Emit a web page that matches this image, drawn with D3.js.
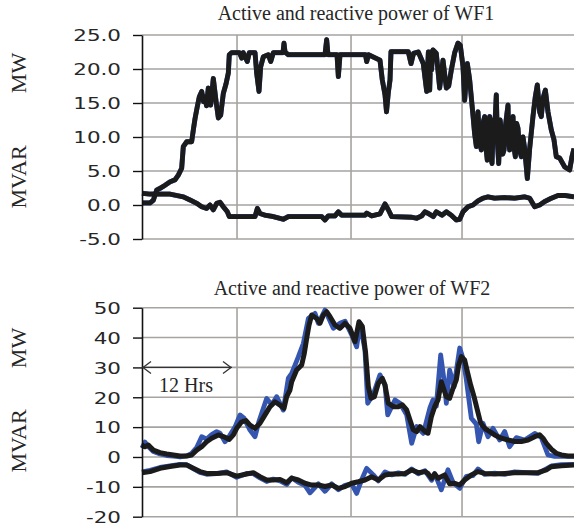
<!DOCTYPE html>
<html><head><meta charset="utf-8">
<script src="https://cdn.jsdelivr.net/npm/d3@7"></script>
<style>html,body{margin:0;padding:0;background:#fff;} svg{display:block}</style>
</head><body>
<svg id="c" width="574" height="529"></svg>
<script>
// ---------- DATA (time in hours, values in MW / MVAR) ----------
const titles = ["Active and reactive power of WF1", "Active and reactive power of WF2"];
const ticksWF1 = [-5, 0, 5, 10, 15, 20, 25];
const ticksWF2 = [-20, -10, 0, 10, 20, 30, 40, 50];
const hourGrid = [12.67, 27.87, 42.67];
const hourSpan = [0, 57.6];
const spanLabel = "12 Hrs";
const spanHours = 12;
const spanLevel = 30;

const wf1Active = [[0,0.3],[1.07,0.3],[1.51,0.7],[1.96,2.2],[2.4,2.45],[3.07,2.9],[3.73,3.4],[4.4,3.7],[4.84,4.4],[5.29,5.4],[5.51,8.6],[5.96,9.3],[6.62,9.3],[6.84,11.0],[7.07,12.7],[7.38,14.5],[7.64,15.9],[7.96,16.7],[8.2,15.2],[8.4,15.9],[8.6,14.6],[8.84,17.2],[9.16,14.7],[9.51,18.6],[9.87,15.3],[10.18,12.8],[10.49,13.2],[10.84,16.4],[11.2,17.8],[11.51,19.4],[11.64,22.1],[11.96,22.4],[13.0,22.4],[13.29,21.6],[13.5,22.4],[14.04,21.1],[14.3,22.4],[15.07,22.4],[15.29,19.4],[15.6,16.7],[15.82,20.3],[16.18,21.8],[16.84,22.1],[17.16,21.1],[17.51,22.4],[18.8,22.4],[18.93,23.8],[19.07,22.5],[19.5,22.1],[24.4,22.1],[24.62,24.3],[24.8,22.1],[26.0,22.1],[26.18,18.9],[26.4,22.1],[29.8,22.1],[29.96,21.1],[30.2,22.1],[31.73,21.3],[32.04,18.4],[32.4,16.2],[32.6,13.7],[32.84,16.5],[33.07,18.4],[33.2,22.55],[35.5,22.55],[35.87,20.8],[36.2,22.3],[36.84,22.5],[37.5,20.8],[37.96,16.7],[38.18,22.5],[38.36,16.9],[38.5,22.5],[38.6,19.85],[38.8,22.8],[39.24,22.3],[39.69,17.2],[40.13,21.3],[40.58,17.2],[40.89,17.5],[41.24,19.85],[41.69,22.4],[42.13,23.8],[42.44,23.5],[42.8,20.35],[43.02,15.4],[43.38,20.8],[43.69,18.4],[44.13,13.2],[44.35,10.5],[44.58,8.6],[44.8,13.7],[45.0,9.5],[45.24,8.1],[45.45,12.0],[45.69,13.0],[45.9,8.0],[46.04,6.6],[46.2,11.5],[46.36,13.0],[46.5,7.5],[46.67,6.1],[46.85,12.5],[47.02,11.0],[47.24,16.2],[47.4,9.0],[47.56,6.1],[47.75,12.5],[47.91,11.0],[48.1,7.5],[48.27,8.1],[48.5,12.0],[48.8,14.7],[48.9,9.5],[49.02,8.1],[49.25,11.0],[49.47,13.0],[49.6,8.5],[49.78,7.1],[49.95,12.0],[50.13,11.3],[50.35,8.0],[50.58,7.1],[50.8,10.0],[51.02,8.3],[51.38,3.9],[51.69,8.3],[52.13,13.0],[52.44,15.9],[52.71,17.65],[53.02,13.7],[53.24,13.0],[53.47,15.7],[53.78,16.9],[54.13,13.7],[54.58,11.0],[54.93,9.6],[55.24,7.1],[55.69,6.9],[56.36,5.6],[57.02,5.15],[57.33,7.1],[57.6,8.3]];

const wf1Reactive = [[0,1.72],[1.07,1.6],[2.4,1.6],[3.73,1.6],[4.62,1.4],[5.51,1.2],[6.4,0.74],[7.29,0.25],[7.96,-0.25],[8.62,-0.5],[9.07,0.0],[9.51,-0.7],[9.96,0.25],[10.4,0.4],[10.84,-0.25],[11.38,-1.0],[11.64,-1.7],[15.07,-1.7],[15.38,-0.5],[15.73,-1.25],[16.4,-1.5],[17.51,-1.7],[18.84,-2.1],[19.51,-1.7],[23.96,-1.7],[24.4,-2.2],[24.84,-1.6],[25.73,-1.6],[26.18,-1.0],[26.62,-1.5],[29.73,-1.5],[29.96,-1.2],[30.62,-1.6],[31.73,-1.3],[32.4,0.15],[32.84,-0.7],[33.29,-1.7],[35.96,-1.8],[36.62,-1.95],[37.29,-1.6],[37.73,-1.0],[38.18,-1.25],[38.84,-1.7],[39.24,-1.0],[40.0,-1.5],[40.58,-1.0],[41.24,-1.5],[41.91,-2.2],[42.36,-2.1],[42.8,-1.0],[43.47,-0.25],[44.13,0.0],[44.8,0.6],[45.47,1.0],[46.13,1.2],[47.02,1.0],[48.3,1.1],[49.69,1.0],[51.02,1.2],[51.69,1.0],[52.36,-0.25],[53.02,0.0],[53.69,0.5],[54.58,1.0],[55.47,1.4],[56.36,1.4],[57.6,1.2]];

const wf2ActiveSim = [[0,4.0],[0.4,3.45],[0.84,4.0],[1.51,2.3],[2.4,1.45],[3.29,1.0],[4.18,0.67],[5.07,0.33],[5.96,0.33],[6.62,0.67],[7.29,2.3],[7.96,3.45],[8.62,5.1],[9.29,6.3],[10.18,7.4],[10.84,6.85],[11.64,5.9],[12.18,7.4],[12.62,9.6],[13.29,11.8],[13.87,12.2],[14.4,10.7],[15.07,9.6],[15.73,11.3],[16.4,14.1],[17.07,16.85],[17.73,18.5],[18.4,17.4],[18.93,16.3],[19.29,20.2],[19.73,22.4],[19.96,25.2],[20.62,29.1],[21.29,30.8],[21.64,34.7],[21.96,39.75],[22.27,44.2],[22.62,47.55],[23.29,46.4],[23.73,44.8],[24.18,47.55],[24.62,48.66],[25.07,47.0],[25.73,44.2],[26.4,43.1],[27.07,44.8],[27.73,43.1],[28.4,38.6],[28.93,45.3],[29.38,43.7],[29.82,34.7],[30.18,23.55],[30.53,19.65],[30.98,20.2],[31.51,24.7],[32.04,26.35],[32.4,24.1],[32.84,18.0],[33.51,16.85],[34.18,16.85],[34.71,17.5],[35.29,15.75],[35.73,12.4],[36.18,9.05],[36.62,8.5],[37.07,10.2],[37.73,8.5],[38.13,7.95],[38.58,13.5],[39.02,16.85],[39.47,19.1],[39.91,25.2],[40.58,20.2],[41.02,19.65],[41.47,23.0],[41.91,25.8],[42.22,30.8],[42.58,33.6],[43.02,32.5],[43.38,28.6],[43.82,24.1],[44.27,20.2],[44.71,15.75],[45.16,11.3],[45.69,9.6],[46.36,8.5],[47.02,7.4],[47.91,6.3],[48.8,5.7],[49.69,5.2],[50.58,5.2],[51.47,5.7],[52.36,6.8],[53.02,7.4],[53.47,6.3],[53.91,4.6],[54.58,2.6],[55.24,1.25],[55.91,0.67],[56.8,0.33],[57.6,0.33]];

const wf2ActiveMeas = [[0,3.0],[0.4,5.0],[0.84,3.5],[1.51,1.8],[2.4,1.0],[3.29,0.5],[4.18,0.3],[5.07,0.0],[5.96,0.4],[6.62,1.2],[7.29,3.2],[7.96,6.8],[8.62,6.0],[9.29,7.5],[9.96,8.5],[10.4,8.0],[11.07,5.1],[11.64,7.0],[12.4,10.0],[13.07,14.1],[13.6,13.0],[14.4,9.0],[15.07,6.8],[15.6,12.0],[16.62,19.6],[17.3,17.5],[17.95,20.2],[18.84,15.7],[19.51,26.4],[19.96,28.0],[20.84,33.5],[21.51,38.0],[22.18,46.4],[23.07,48.1],[23.51,44.8],[24.4,49.2],[25.51,43.1],[26.4,44.8],[27.07,45.5],[27.96,40.9],[28.62,36.9],[29.07,44.8],[29.73,35.8],[30.09,18.0],[30.84,21.0],[31.73,27.5],[32.4,24.1],[32.76,14.1],[33.73,19.1],[34.4,18.0],[35.29,14.1],[35.96,4.6],[36.62,10.2],[37.51,7.9],[38.4,16.5],[38.8,19.1],[39.24,17.0],[39.82,34.2],[40.27,25.8],[40.58,18.0],[41.02,29.1],[41.6,23.5],[42.36,36.5],[42.8,33.0],[43.24,26.0],[43.91,13.0],[44.58,11.0],[44.89,5.1],[45.47,11.3],[46.13,6.8],[46.8,9.6],[47.69,5.7],[48.36,8.5],[49.02,3.45],[49.91,6.5],[51.02,5.7],[52.36,7.9],[53.24,6.5],[54.13,0.67],[55.02,0.2],[57.6,0.2]];

const wf2ReactiveSim = [[0,-5.25],[1.07,-4.9],[2.4,-3.8],[3.73,-3.2],[5.07,-2.7],[5.96,-2.7],[6.84,-3.8],[7.73,-4.9],[8.62,-5.5],[9.96,-5.5],[11.29,-5.25],[12.62,-6.4],[13.96,-5.7],[14.84,-5.25],[15.73,-6.6],[16.62,-7.7],[17.51,-7.7],[18.4,-7.5],[19.29,-8.6],[19.96,-7.1],[20.84,-7.7],[21.73,-8.8],[22.62,-9.4],[23.51,-9.4],[24.4,-9.9],[25.29,-9.4],[26.18,-10.5],[27.07,-9.9],[27.96,-8.8],[28.84,-8.3],[29.73,-7.7],[30.62,-6.6],[31.51,-7.7],[32.4,-6.0],[33.29,-5.7],[34.18,-5.7],[35.07,-5.5],[35.96,-4.35],[36.84,-5.25],[37.73,-4.9],[38.13,-5.5],[38.62,-7.1],[39.02,-5.7],[39.47,-7.1],[40.36,-6.0],[41.02,-9.0],[41.69,-8.8],[42.36,-9.4],[43.02,-7.7],[43.91,-6.0],[44.8,-4.9],[45.69,-5.5],[47.02,-5.7],[48.36,-5.5],[49.69,-5.25],[52.8,-5.25],[53.91,-4.35],[54.58,-3.25],[55.91,-2.9],[57.6,-2.7]];

const wf2ReactiveMeas = [[0,-5.0],[1.07,-4.5],[2.4,-3.5],[3.73,-3.0],[5.07,-2.5],[5.96,-2.6],[6.84,-3.9],[7.73,-5.2],[8.62,-5.8],[9.96,-5.6],[11.29,-5.0],[12.62,-6.8],[13.96,-5.5],[14.84,-5.6],[15.73,-7.0],[16.62,-8.2],[17.51,-7.4],[18.4,-8.0],[19.29,-9.2],[19.96,-7.0],[20.84,-8.5],[21.73,-9.5],[22.4,-12.0],[23.51,-9.0],[24.4,-11.5],[25.29,-9.0],[26.18,-11.0],[27.07,-9.5],[27.96,-9.0],[28.62,-12.2],[29.3,-7.5],[29.96,-3.8],[30.84,-6.0],[31.51,-8.0],[32.4,-5.0],[33.29,-6.0],[34.18,-5.3],[35.07,-5.8],[35.96,-4.0],[36.84,-5.6],[37.73,-4.6],[38.62,-7.8],[39.02,-5.5],[39.91,-11.0],[40.8,-4.3],[41.47,-8.5],[42.36,-10.5],[43.24,-6.5],[44.13,-6.2],[44.8,-4.0],[45.69,-5.8],[47.02,-5.4],[48.36,-5.8],[49.69,-5.0],[52.8,-5.5],[53.91,-4.0],[54.58,-3.0],[55.91,-2.6],[57.6,-2.5]];

// ---------- DRAWING ----------
const svg = d3.select('#c');
const BLUE = '#3556b0', BLACK = '#1b1b1b', GRID = '#a6a3a0', TXT = '#262626';
const left = 142, right = 574;

function panel(cfg) {
  const x = d3.scaleLinear().domain(hourSpan).range([left, right]);
  const y = d3.scaleLinear().domain([cfg.ticks[0], cfg.ticks[cfg.ticks.length - 1]]).range([cfg.bottom, cfg.top]);
  const g = svg.append('g');

  g.selectAll('line.hg').data(cfg.ticks).join('line').attr('class', 'hg')
    .attr('x1', left).attr('x2', right).attr('y1', d => y(d)).attr('y2', d => y(d))
    .attr('stroke', GRID).attr('stroke-width', 1.6);
  g.selectAll('line.vg').data(hourGrid).join('line').attr('class', 'vg')
    .attr('x1', d => x(d)).attr('x2', d => x(d)).attr('y1', cfg.top).attr('y2', cfg.bottom)
    .attr('stroke', GRID).attr('stroke-width', 1.6);

  const line = d3.line().x(d => x(d[0])).y(d => y(d[1]));
  cfg.series.forEach(s => {
    g.append('path').datum(s.data).attr('d', line).attr('fill', 'none')
      .attr('stroke', s.color).attr('stroke-width', s.width)
      .attr('stroke-linejoin', 'round').attr('stroke-linecap', 'butt');
  });

  const ax = g.append('g').attr('transform', `translate(${left},0)`)
    .call(d3.axisLeft(y).tickValues(cfg.ticks).tickSize(9).tickSizeOuter(0).tickPadding(12)
      .tickFormat(d => cfg.fmt(d).replace('\u2212', '-')));
  ax.select('.domain').attr('stroke', '#111').attr('stroke-width', 1.6);
  ax.selectAll('.tick line').attr('stroke', '#111').attr('stroke-width', 1.4);
  ax.selectAll('.tick text').attr('font-family', 'DejaVu Sans').attr('font-size', 16)
    .attr('fill', TXT).attr('x', 0).attr('dy', '0.36em')
    .attr('transform', 'translate(-21,0) scale(1.34,1)');

  svg.append('text').attr('x', cfg.titleX).attr('y', cfg.titleY).attr('text-anchor', 'middle')
    .attr('font-family', 'Liberation Serif').attr('font-size', 20).attr('fill', TXT).text(cfg.title);

  cfg.ylabels.forEach(l => {
    svg.append('text').attr('transform', `translate(26,${l.cy}) rotate(-90)`).attr('text-anchor', 'middle')
      .attr('font-family', 'Liberation Serif').attr('font-size', 22).attr('fill', TXT).text(l.t);
  });
  return { x, y };
}

panel({
  ticks: ticksWF1, top: 35, bottom: 239, fmt: d3.format('.1f'),
  title: titles[0], titleX: 356, titleY: 20,
  ylabels: [{ t: 'MW', cy: 73 }, { t: 'MVAR', cy: 177 }],
  series: [
    { data: wf1Active, color: BLUE, width: 5 },
    { data: wf1Reactive, color: BLUE, width: 5 },
    { data: wf1Active, color: BLACK, width: 4.8 },
    { data: wf1Reactive, color: BLACK, width: 4.8 }
  ]
});

const p2 = panel({
  ticks: ticksWF2, top: 307.7, bottom: 516.7, fmt: d3.format('d'),
  title: titles[1], titleX: 352, titleY: 295,
  ylabels: [{ t: 'MW', cy: 348 }, { t: 'MVAR', cy: 441 }],
  series: [
    { data: wf2ActiveMeas, color: BLUE, width: 4.8 },
    { data: wf2ReactiveMeas, color: BLUE, width: 4.8 },
    { data: wf2ActiveSim, color: BLACK, width: 5 },
    { data: wf2ReactiveSim, color: BLACK, width: 5 }
  ]
});

// 12 Hrs span arrow
const ax0 = p2.x(0), ax1 = p2.x(spanHours), ay = p2.y(spanLevel);
const arr = svg.append('g').attr('stroke', '#333').attr('stroke-width', 1.3).attr('fill', 'none');
arr.append('line').attr('x1', ax0).attr('x2', ax1).attr('y1', ay).attr('y2', ay);
arr.append('path').attr('d', `M${ax0 + 9},${ay - 6}L${ax0 + 1},${ay}L${ax0 + 9},${ay + 6}`);
arr.append('path').attr('d', `M${ax1 - 9},${ay - 6}L${ax1 - 1},${ay}L${ax1 - 9},${ay + 6}`);
svg.append('text').attr('x', (ax0 + ax1) / 2 - 1).attr('y', ay + 25).attr('text-anchor', 'middle')
  .attr('font-family', 'Liberation Serif').attr('font-size', 20).attr('fill', TXT).text(spanLabel);
</script>
</body></html>
